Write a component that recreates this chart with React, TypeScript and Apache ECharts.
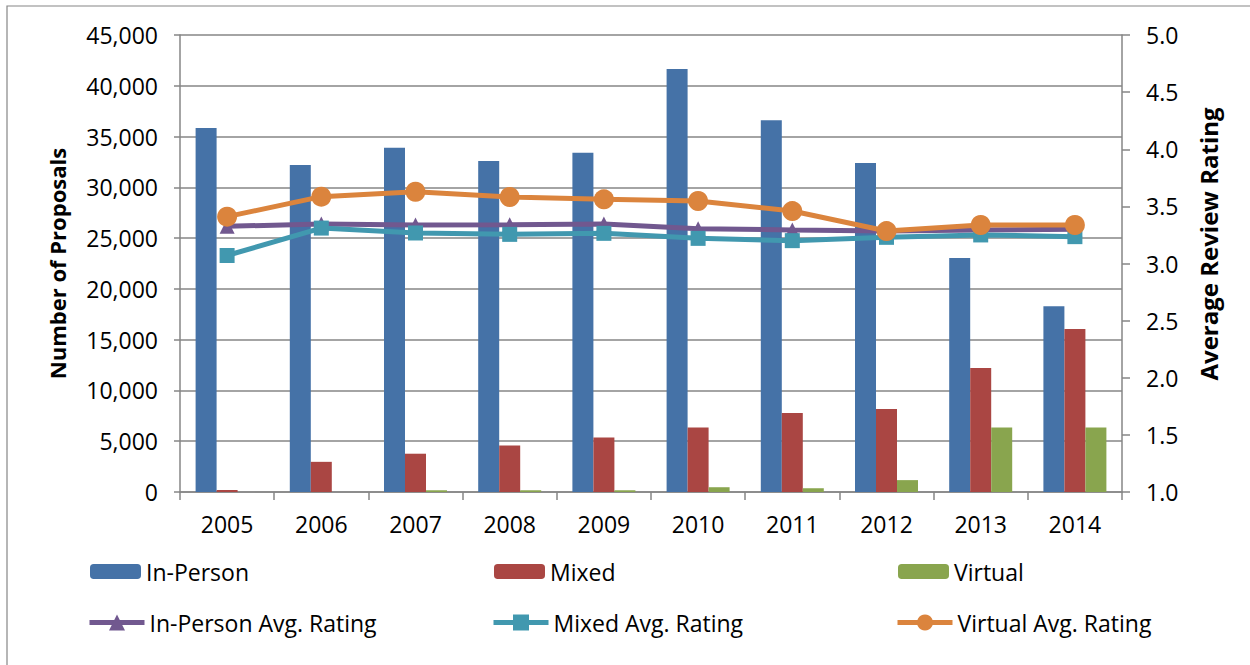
import React, { useEffect, useRef } from "react";
import * as echarts from "echarts";

const years = ["2005", "2006", "2007", "2008", "2009", "2010", "2011", "2012", "2013", "2014"];
const inPerson = [35850, 32200, 33900, 32600, 33400, 41650, 36600, 32400, 23050, 18300];
const mixed = [200, 2970, 3770, 4570, 5370, 6350, 7780, 8170, 12210, 16050];
const virtual = [0, 0, 170, 170, 170, 470, 370, 1170, 6350, 6350];
const inPersonAvg = [3.326, 3.345, 3.337, 3.34, 3.345, 3.305, 3.293, 3.284, 3.293, 3.3];
const mixedAvg = [3.07, 3.31, 3.267, 3.255, 3.264, 3.22, 3.2, 3.229, 3.25, 3.235];
const virtualAvg = [3.41, 3.585, 3.628, 3.582, 3.562, 3.547, 3.459, 3.284, 3.337, 3.337];

const FONT = "Open Sans";
const GRID = "#868686";

export default function App() {
  const ref = useRef<HTMLDivElement>(null);
  useEffect(() => {
    if (!ref.current) return;
    const chart = echarts.init(ref.current, null, { renderer: "svg" });
    const txt = { fontFamily: FONT, fontSize: 23, color: "#000" };
    const legendBase = {
      padding: 0,
      itemGap: 0,
      textStyle: { fontFamily: FONT, fontSize: 23, color: "#000" },
      selectedMode: false,
    };
    const lineLegend = { ...legendBase, top: 611, itemWidth: 55, itemHeight: 20, lineStyle: { width: 5 } };
    chart.setOption({
      animation: false,
      backgroundColor: "#fff",
      grid: { left: 180, right: 128, top: 35, bottom: 173, containLabel: false },
      graphic: [
        {
          type: "rect",
          silent: true,
          shape: { x: 7, y: 6, width: 1300, height: 700 },
          style: { fill: "none", stroke: GRID, lineWidth: 1.2 },
        },
        {
          type: "text",
          silent: true,
          x: 1208,
          y: 244,
          rotation: Math.PI / 2,
          style: {
            text: "Average Review Rating",
            fontFamily: FONT,
            fontSize: 24,
            fontWeight: "bold",
            fill: "#000",
            align: "center",
            verticalAlign: "middle",
          },
        },
      ],
      legend: [
        { ...legendBase, data: ["In-Person"], left: 90, top: 560, itemWidth: 51, itemHeight: 15 },
        { ...legendBase, data: ["Mixed"], left: 494, top: 560, itemWidth: 51, itemHeight: 15 },
        { ...legendBase, data: ["Virtual"], left: 898, top: 560, itemWidth: 51, itemHeight: 15 },
        { ...lineLegend, data: ["In-Person Avg. Rating"], left: 87 },
        { ...lineLegend, data: ["Mixed Avg. Rating"], left: 491 },
        { ...lineLegend, data: ["Virtual Avg. Rating"], left: 895 },
      ],
      xAxis: {
        type: "category",
        data: years,
        axisLine: { lineStyle: { color: GRID, width: 1.5 } },
        axisTick: { show: true, length: 8, lineStyle: { color: GRID, width: 1.5 } },
        axisLabel: { ...txt, margin: 20 },
      },
      yAxis: [
        {
          type: "value",
          min: 0,
          max: 45000,
          interval: 5000,
          name: "Number of Proposals",
          nameLocation: "middle",
          nameRotate: 90,
          nameGap: 112,
          nameTextStyle: { fontFamily: FONT, fontSize: 22, fontWeight: "bold", color: "#000" },
          axisLine: { show: true, lineStyle: { color: GRID, width: 1.5 } },
          axisTick: { show: true, length: 6, lineStyle: { color: GRID, width: 1.5 } },
          axisLabel: { ...txt, margin: 22, formatter: (v: number) => v.toLocaleString("en-US") },
          splitLine: { show: true, lineStyle: { color: GRID, width: 1.5 } },
        },
        {
          type: "value",
          min: 1,
          max: 5,
          interval: 0.5,
          position: "right",
          axisLine: { show: true, lineStyle: { color: GRID, width: 1.5 } },
          axisTick: { show: true, length: 8, lineStyle: { color: GRID, width: 1.5 } },
          axisLabel: { ...txt, margin: 24, formatter: (v: number) => v.toFixed(1) },
          splitLine: { show: false },
        },
      ],
      series: [
        { name: "In-Person", type: "bar", data: inPerson, barWidth: 21, barGap: "0%", itemStyle: { color: "#4572A7" } },
        { name: "Mixed", type: "bar", data: mixed, barWidth: 21, barGap: "0%", itemStyle: { color: "#AA4643" } },
        { name: "Virtual", type: "bar", data: virtual, barWidth: 21, barGap: "0%", itemStyle: { color: "#89A54E" } },
        {
          name: "In-Person Avg. Rating",
          type: "line",
          yAxisIndex: 1,
          data: inPersonAvg,
          symbol: "triangle",
          symbolSize: 15,
          lineStyle: { color: "#71588F", width: 5 },
          itemStyle: { color: "#71588F" },
        },
        {
          name: "Mixed Avg. Rating",
          type: "line",
          yAxisIndex: 1,
          data: mixedAvg,
          symbol: "rect",
          symbolSize: 15,
          lineStyle: { color: "#4198AF", width: 5 },
          itemStyle: { color: "#4198AF" },
        },
        {
          name: "Virtual Avg. Rating",
          type: "line",
          yAxisIndex: 1,
          data: virtualAvg,
          symbol: "circle",
          symbolSize: 20,
          lineStyle: { color: "#DB843D", width: 5 },
          itemStyle: { color: "#DB843D" },
        },
      ],
    });
    return () => chart.dispose();
  }, []);
  return (
    <div
      ref={ref}
      style={{ position: "fixed", left: 0, top: 0, width: 1250, height: 665, background: "#fff" }}
    />
  );
}
